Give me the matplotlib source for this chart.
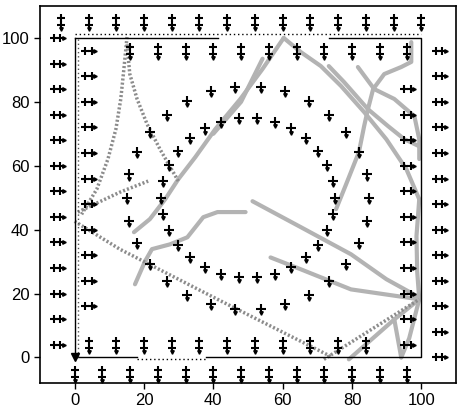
import matplotlib
matplotlib.use("Agg")
import matplotlib.pyplot as plt

plt.rcParams['font.family'] = ['Liberation Sans', 'DejaVu Sans']

# outer ring of heading markers
outer_top_x = [-4, 4, 12, 20, 28, 36, 44, 52, 60, 68, 76, 84, 92, 100]
outer_top_y = 105
outer_bottom_x = [0, 8, 16, 24, 32, 40, 48, 56, 64, 72, 80, 88, 96]
outer_bottom_y = -5
outer_left_y = [4, 12, 20, 28, 36, 44, 52, 60, 68, 76, 84, 92, 100]
outer_left_x = -5
outer_right_y = [0, 8, 16, 24, 32, 40, 48, 56, 64, 72, 80, 88, 96]
outer_right_x = 105

# inner ring
inner_top_x = [16, 24, 32, 40, 48, 56, 64, 72, 80, 88, 96]
inner_top_y = 96
inner_bottom_x = [4, 12, 20, 28, 36, 44, 52, 60, 68, 76, 84]
inner_bottom_y = 4
inner_left_y = [16, 24, 32, 40, 48, 56, 64, 72, 80, 88, 96]
inner_left_x = 4
inner_right_y = [4, 12, 20, 28, 36, 44, 52, 60, 68, 76, 84]
inner_right_x = 96

# single heading markers on the two circles
circle_big_x = [85.0, 84.2, 82.0, 78.3, 73.4, 67.5, 60.8, 53.7, 46.3, 39.2,
                32.5, 26.6, 21.7, 18.0, 15.8, 15.0, 15.8, 18.0, 21.7, 26.6,
                32.5, 39.2, 46.3, 53.7, 60.8, 67.5, 73.4, 78.3, 82.0, 84.2]
circle_big_y = [50.0, 57.3, 64.2, 70.6, 76.0, 80.3, 83.3, 84.8, 84.8, 83.3,
                80.3, 76.0, 70.6, 64.2, 57.3, 50.0, 42.7, 35.8, 29.4, 24.0,
                19.7, 16.7, 15.2, 15.2, 16.7, 19.7, 24.0, 29.4, 35.8, 42.7]
circle_small_x = [75.0, 74.5, 72.8, 70.2, 66.7, 62.5, 57.7, 52.6, 47.4, 42.3,
                  37.5, 33.3, 29.8, 27.2, 25.5, 25.0, 25.5, 27.2, 29.8, 33.3,
                  37.5, 42.3, 47.4, 52.6, 57.7, 62.5, 66.7, 70.2, 72.8, 74.5]
circle_small_y = [50.0, 55.2, 60.2, 64.7, 68.6, 71.7, 73.8, 74.9, 74.9, 73.8,
                  71.7, 68.6, 64.7, 60.2, 55.2, 50.0, 44.8, 39.8, 35.3, 31.4,
                  28.3, 26.2, 25.1, 25.1, 26.2, 28.3, 31.4, 35.3, 39.8, 44.8]

# robot trajectories (solid-looking bead chains)
paths_solid = [
    ([17.1, 21.7, 26.1, 29.9, 34.8, 40.6, 47.8, 54.2, 60.3],
     [39.2, 43.3, 49.5, 55.8, 62.7, 71.5, 80.9, 90.3, 100.0]),
    ([40.0, 44.0, 48.0, 54.2],
     [70.0, 75.0, 80.0, 93.5]),
    ([17.4, 20.3, 22.3, 27.5, 32.5, 37.1, 41.2, 49.3],
     [22.9, 30.1, 33.9, 35.4, 37.6, 43.9, 45.5, 45.5]),
    ([51.3, 65.2, 79.7, 89.9, 99.4],
     [48.9, 40.8, 32.3, 24.5, 18.8]),
    ([56.5, 65.2, 79.7, 99.4],
     [31.3, 27.6, 21.3, 18.2]),
    ([79.1, 92.2, 99.4],
     [-0.6, 11.9, 18.2]),
    ([99.4, 96.5, 94.2],
     [18.2, 6.0, 0.0]),
    ([92.2, 94.2],
     [11.9, 0.0]),
    ([97.1, 97.1, 94.2, 89.3, 86.1, 84.6, 83.5, 82.0, 78.3, 75.4],
     [98.7, 92.5, 90.9, 88.7, 84.0, 77.7, 72.4, 64.3, 54.2, 46.4]),
    ([73.3, 77.7, 84.6, 90.4, 95.1, 99.4],
     [91.2, 86.2, 77.7, 72.4, 68.3, 66.1]),
    ([81.7, 86.4, 92.2, 98.0, 99.4, 99.4],
     [90.9, 84.0, 80.9, 75.5, 68.3, 62.1]),
    ([60.3, 65.2, 71.0, 76.8, 83.5, 89.9, 95.7, 99.4],
     [100.0, 95.6, 91.2, 85.0, 76.8, 68.3, 58.9, 49.5]),
    ([99.4, 98.6, 98.8, 99.4],
     [49.5, 38.0, 27.0, 18.2]),
]

# dotted trajectories
paths_dotted = [
    ([15.1, 14.2, 13.3, 11.9, 9.6, 6.4, 2.0],
     [100.3, 90.3, 80.9, 71.5, 62.1, 52.7, 44.8]),
    ([15.1, 15.9, 18.0, 20.9, 24.6, 29.9],
     [98.0, 88.7, 80.9, 73.0, 65.2, 55.2]),
    ([0.9, 13.0, 21.2],
     [45.5, 51.7, 55.2]),
    ([0.0, 13.0, 41.2, 73.9],
     [42.6, 33.9, 18.2, 0.3]),
    ([71.9, 99.4],
     [-0.6, 18.2]),
]

fig = plt.figure(figsize=(4.61, 4.07), dpi=100)
ax = fig.add_axes([40 / 461, 1 - 383 / 407, 416 / 461, 377 / 407])

for px, py in paths_solid:
    ax.plot(px, py, color='#b3b3b3', lw=3, solid_capstyle='round', zorder=2)
for px, py in paths_dotted:
    ax.plot(px, py, color='#8c8c8c', lw=2.5, ls=(0, (0.6, 0.6)), zorder=2)

# square boundary (solid with a dotted companion)
ax.plot([0, 0, 18, None, 38, 100, 100, 73.3],
        [100, 0, 0, None, 0, 0, 100, 100], color='black', lw=1, zorder=3)
ax.plot([18, 38], [-0.6, -0.6], color='black', lw=1, ls=(0, (1, 2)), zorder=3)
ax.plot([0, 41.4], [100, 100], color='black', lw=1, zorder=3)
ax.plot([0, 100], [101.2, 101.2], color='black', lw=1, ls=(0, (1, 2)), zorder=3)
ax.plot([1.0, 1.0], [0, 100], color='#555555', lw=1, ls=(0, (1, 2)), zorder=3)
ax.plot([0], [0], marker='v', color='black', ms=6, zorder=4)

mk = dict(color='black', ls='none', zorder=5)


def horiz_pairs(xc, ys):
    xs = [xc] * len(ys)
    ax.plot([x - 0.9 for x in xs], ys, marker='+', ms=6, mew=1.5, **mk)
    ax.plot([x + 0.9 for x in xs], ys, marker='+', ms=6, mew=1.5, **mk)
    ax.plot([x + 2.0 for x in xs], ys, marker='>', ms=2.5, **mk)


def vert_pairs(xs, yc):
    ys = [yc] * len(xs)
    ax.plot(xs, [y + 1.1 for y in ys], marker='+', ms=6, mew=1.5, **mk)
    ax.plot(xs, [y - 1.1 for y in ys], marker='+', ms=6, mew=1.5, **mk)
    ax.plot(xs, [y - 2.3 for y in ys], marker='v', ms=2.5, **mk)


vert_pairs(outer_top_x, outer_top_y)
vert_pairs(outer_bottom_x, outer_bottom_y)
horiz_pairs(outer_left_x, outer_left_y)
horiz_pairs(outer_right_x, outer_right_y)
vert_pairs(inner_top_x, inner_top_y)
vert_pairs(inner_bottom_x, inner_bottom_y)
horiz_pairs(inner_left_x, inner_left_y)
horiz_pairs(inner_right_x, inner_right_y)

for cx, cy in [(circle_big_x, circle_big_y), (circle_small_x, circle_small_y)]:
    ax.plot(cx, cy, marker='+', ms=7, mew=1.5, **mk)
    ax.plot(cx, [y - 1.3 for y in cy], marker='v', ms=2.5, **mk)

ax.set_xlim(-10, 110)
ax.set_ylim(-8, 110)
ax.set_xticks([0, 20, 40, 60, 80, 100])
ax.set_yticks([0, 20, 40, 60, 80, 100])
ax.tick_params(labelsize=12, length=4, width=1)
for s in ax.spines.values():
    s.set_linewidth(1.2)

fig.savefig('out.png', dpi=100)
